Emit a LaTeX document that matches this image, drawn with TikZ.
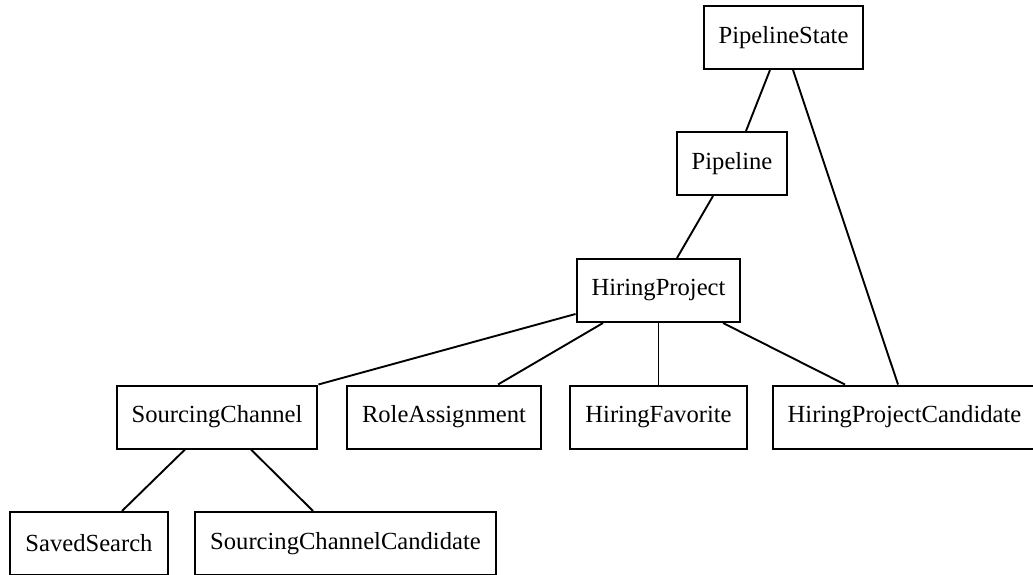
\documentclass[tikz,border=0pt]{standalone}
\usepackage{fontspec}
\setmainfont{Liberation Serif}
\usepackage{tikz}
\usetikzlibrary{positioning}

\begin{document}
\begin{tikzpicture}[x=1pt, y=-1pt]
    \tikzstyle{entity} = [rectangle, draw=black, line width=2pt, inner xsep=15pt, minimum height=63pt, font=\fontsize{24.6}{28}\selectfont]
    \tikzstyle{link} = [line width=1.9pt, black]

    \useasboundingbox (0,0) rectangle (1033,575);

    % Top of the tree
    \node [entity] (state) at (783.5,37.5) {PipelineState};
    \node [entity] (pipeline) at (732,163.5) {Pipeline};
    \node [entity] (project) at (658.5,290.5) {HiringProject};

    % Children of HiringProject
    \node [entity] (channel) at (217,417) {SourcingChannel};
    \node [entity] (role) at (444,417) {RoleAssignment};
    \node [entity] (favorite) at (658.5,417) {HiringFavorite};
    \node [entity] (candidate) at (904.5,417) {HiringProjectCandidate};

    % Children of SourcingChannel
    \node [entity] (search) at (89,543.5) {SavedSearch};
    \node [entity] (chancand) at (345.5,543.5) {SourcingChannelCandidate};

    % Connections
    \draw [link] ([xshift=-13.5pt]state.south) -- ([xshift=14pt]pipeline.north);
    \draw [link] ([xshift=9.5pt]state.south) -- ([xshift=-6.5pt]candidate.north);
    \draw [link] ([xshift=-19pt]pipeline.south) -- ([xshift=18.5pt]project.north);

    \draw [link] ([yshift=-23.5pt]project.west) -- (channel.north east);
    \draw [link] ([xshift=-55.5pt]project.south) -- ([xshift=54pt]role.north);
    \draw [link] (project.south) -- (favorite.north);
    \draw [link] ([xshift=64.5pt]project.south) -- ([xshift=-59.5pt]candidate.north);

    \draw [link] ([xshift=-32pt]channel.south) -- ([xshift=33pt]search.north);
    \draw [link] ([xshift=34pt]channel.south) -- ([xshift=-32.5pt]chancand.north);
\end{tikzpicture}
\end{document}
